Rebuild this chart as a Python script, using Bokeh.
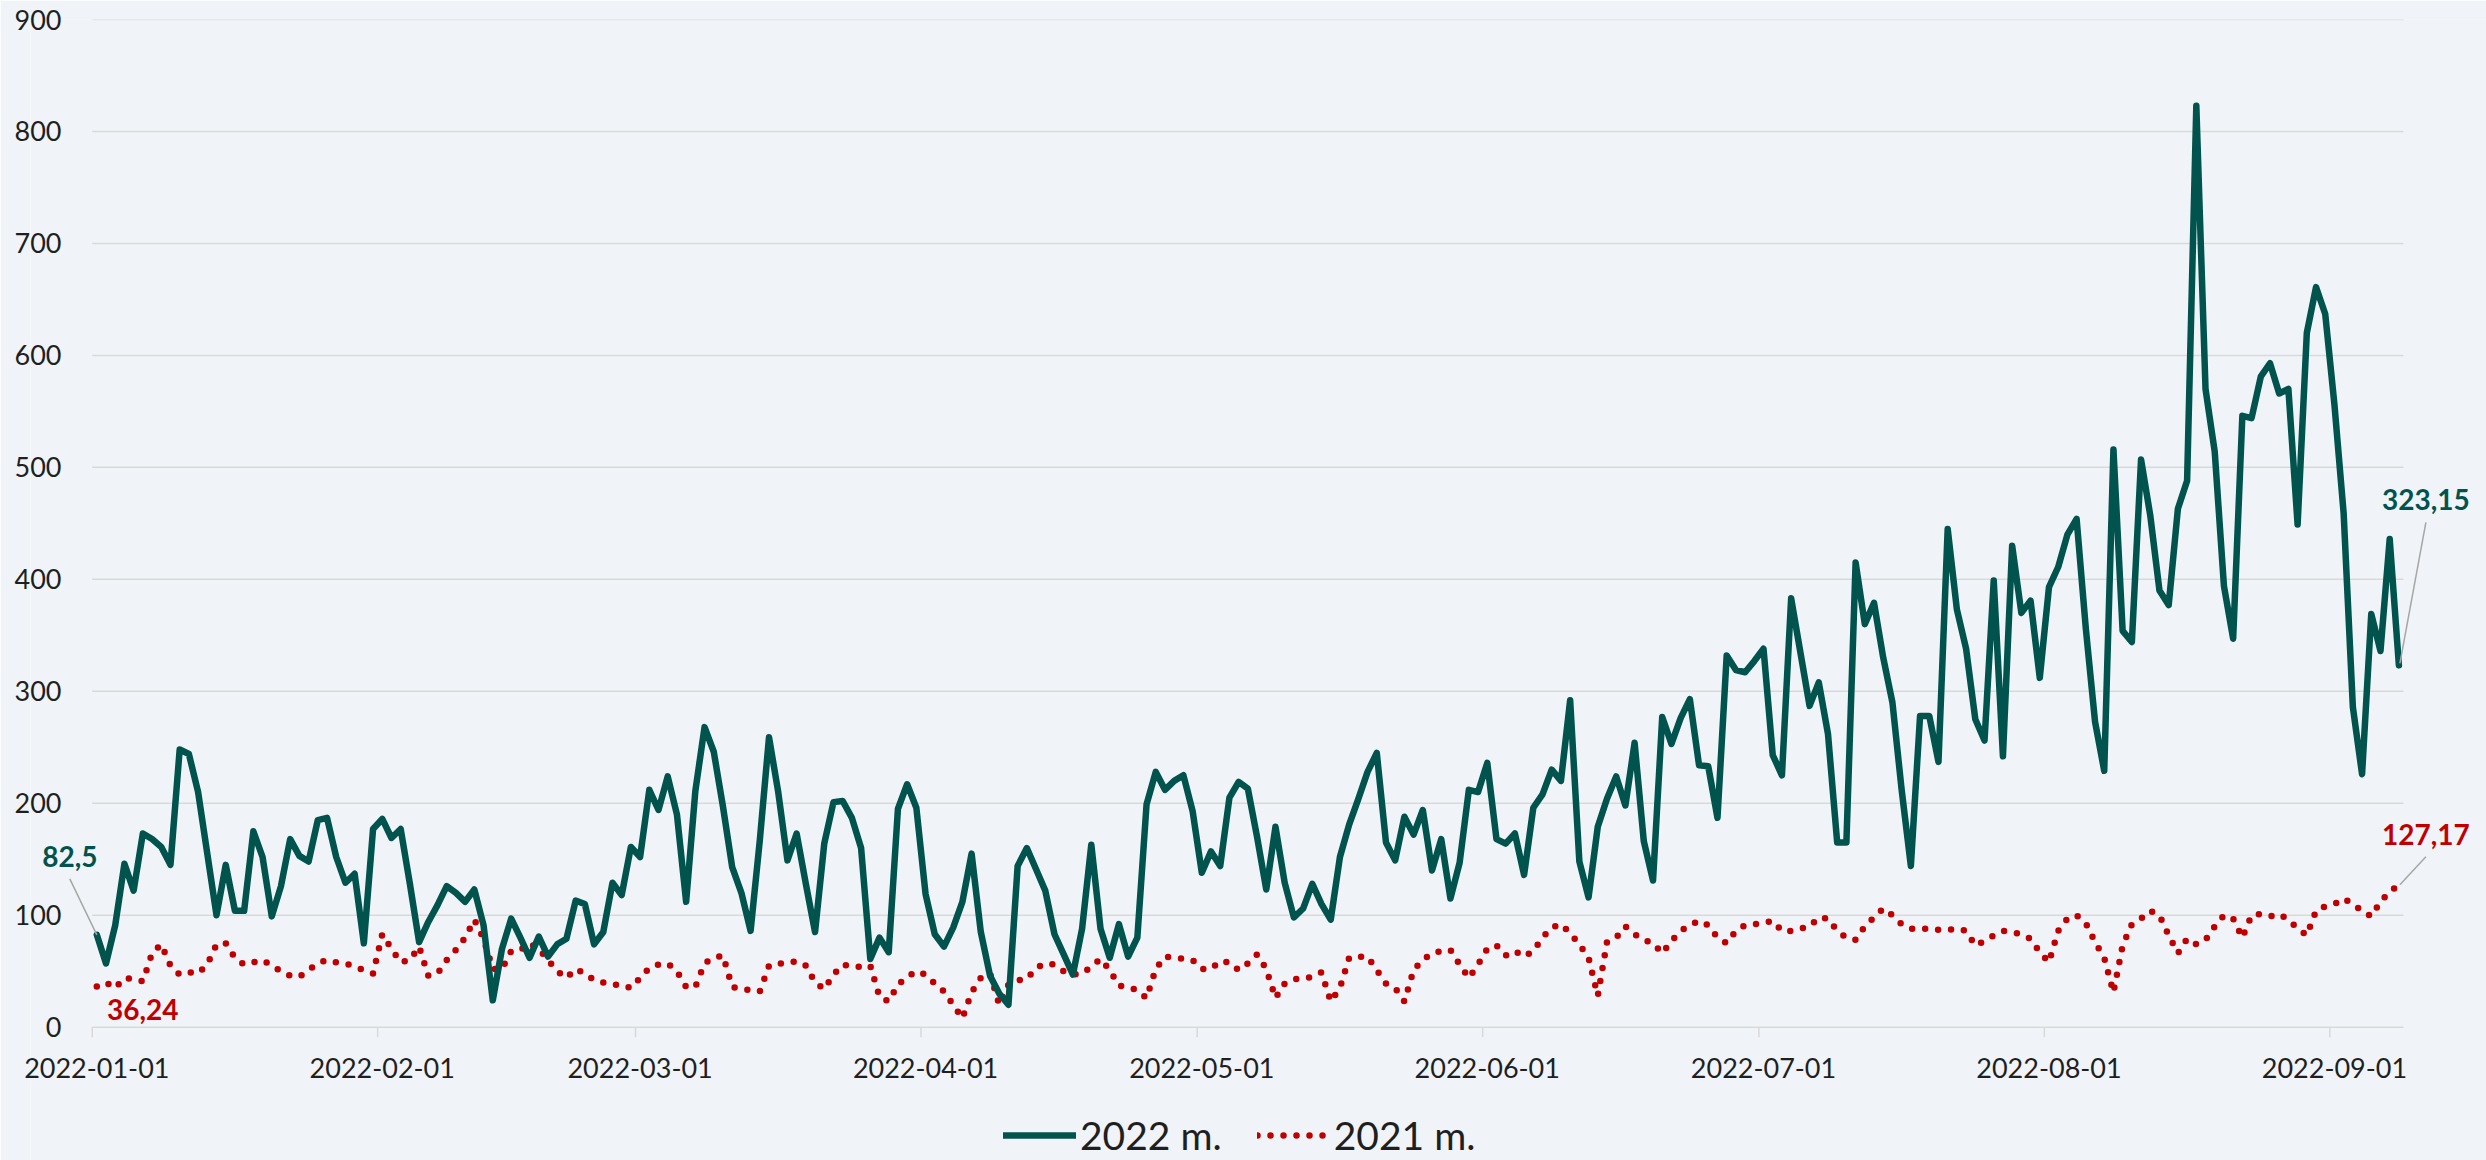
from bokeh.plotting import figure
from bokeh.models import FixedTicker, Legend, LegendItem, Label, Arrow, Range1d
from bokeh.embed import file_html
from bokeh.resources import INLINE
import datetime as dt

# ---------------- data ----------------
start_date = "2022-01-01"
name_2022 = "2022 m."
name_2021 = "2021 m."

series_2022 = [
    82.5, 57, 91, 146, 122, 173, 168, 161, 145, 248,
    244, 210, 155, 100, 145, 104, 104, 175, 152, 99,
    126, 168, 153, 148, 185, 187, 152, 129, 137, 75,
    177, 186, 169, 177, 128, 76, 94, 109, 126, 120,
    112, 123, 91, 24, 70, 97, 80, 62, 81, 63,
    74, 79, 113, 110, 74, 85, 129, 118, 161, 152,
    212, 194, 224, 190, 112, 211, 268, 246, 197, 143,
    120, 86, 167, 259, 210, 149, 173, 128, 85, 164,
    201, 202, 187, 160, 61, 80, 67, 195, 217, 196,
    119, 83, 72, 89, 112, 155, 85, 46, 30, 20,
    144, 160, 141, 122, 83, 65, 47, 88, 163, 88,
    62, 92, 63, 80, 199, 228, 212, 220, 225, 193,
    138, 157, 144, 205, 219, 213, 170, 123, 179, 129,
    98, 106, 128, 110, 96, 152, 181, 204, 228, 245,
    165, 149, 188, 172, 194, 140, 168, 115, 147, 212,
    210, 236, 168, 164, 173, 136, 196, 208, 230, 220,
    292, 148, 116, 179, 204, 224, 198, 254, 166, 131,
    277, 253, 276, 293, 234, 233, 187, 332, 319, 317,
    327, 338, 243, 225, 383, 335, 287, 308, 262, 165,
    165, 415, 360, 379, 330, 290, 212, 144, 278, 278,
    237, 445, 373, 338, 275, 256, 399, 242, 430, 370,
    381, 312, 393, 411, 440, 454, 356, 273, 229, 516,
    354, 344, 507, 457, 390, 377, 463, 488, 823, 570,
    514, 394, 347, 546, 544, 581, 593, 566, 570, 449,
    620, 661, 637, 556, 459, 286, 226, 369, 336, 436,
    323.15,
]

series_2021 = [
    36.24, 40, 35, 44, 43, 41, 66, 74, 55, 47,
    49, 48, 56, 74, 75, 62, 56, 58, 60, 55,
    50, 46, 45, 51, 57, 60, 58, 57, 54, 51,
    48, 83, 70, 58, 60, 72, 46, 48, 60, 69,
    80, 96, 79, 52, 52, 68, 69, 75, 70, 60,
    50, 44, 52, 48, 42, 40, 38, 38, 35, 44,
    53, 56, 57, 50, 36, 36, 57, 62, 64, 36,
    34, 33, 32, 55, 57, 57, 59, 55, 40, 34,
    47, 56, 54, 54, 55, 27, 23, 38, 45, 50,
    47, 39, 32, 20, 8, 31, 44, 48, 20, 38,
    42, 43, 53, 57, 56, 50, 47, 48, 54, 61,
    51, 37, 36, 33, 26, 52, 63, 62, 61, 60,
    52, 52, 59, 58, 51, 57, 65, 52, 26, 39,
    43, 43, 45, 49, 23, 35, 62, 63, 63, 51,
    39, 35, 23, 51, 60, 66, 68, 69, 56, 44,
    56, 70, 73, 64, 68, 63, 68, 80, 89, 92,
    84, 74, 62, 28, 76, 80, 90, 83, 78, 75,
    66, 77, 86, 91, 95, 91, 80, 75, 86, 91,
    92, 93, 95, 86, 86, 88, 90, 98, 97, 86,
    80, 78, 90, 98, 106, 100, 92, 88, 88, 88,
    87, 87, 88, 86, 73, 77, 82, 86, 85, 83,
    79, 67, 58, 86, 97, 100, 93, 76, 62, 31,
    73, 92, 97, 104, 100, 82, 66, 79, 74, 78,
    90, 100, 97, 80, 100, 101, 99, 101, 96, 88,
    82, 104, 108, 110, 115, 110, 104, 99, 112, 121,
    127.17,
]

month_labels = ["2022-01-01", "2022-02-01", "2022-03-01", "2022-04-01", "2022-05-01",
                "2022-06-01", "2022-07-01", "2022-08-01", "2022-09-01"]
y_ticks = [0, 100, 200, 300, 400, 500, 600, 700, 800, 900]

label_first_2022 = "82,5"
label_last_2022 = "323,15"
label_first_2021 = "36,24"
label_last_2021 = "127,17"

# ---------------- style / layout ----------------
BG = "#F0F4F8"
TEAL = "#01534E"
RED = "#C00000"
GRID = "#D9D9D9"
TXT = "#1F1F1F"
LEADER = "#A6A6A6"
FONT = "Lato"

W, H = 2486, 1160
ML, MR, MT, MB = 30, 0, 19, 0            # frame spans nearly the whole canvas
DATA_LEFT, DATA_RIGHT = 91.7, 2403.0     # pixel span of the dated part of the x axis
ZERO_Y = 1026.7                          # pixel row of value 0
Y_LABEL_RIGHT = 61                       # right edge of the y tick labels
X_LABEL_TOP = 1057                       # top of the x tick labels
TICK_LEN = 10                            # month tick length (px)

n = len(series_2022)
days = list(range(n))
d0 = dt.date.fromisoformat(start_date)
tick_pos = [(dt.date.fromisoformat(s) - d0).days for s in month_labels]

YMAX = y_ticks[-1]
px_day = (DATA_RIGHT - DATA_LEFT) / n
px_unit = (ZERO_Y - MT) / YMAX
x_start = -0.5 - (DATA_LEFT - ML) / px_day
x_end = n - 0.5 + (W - MR - DATA_RIGHT) / px_day
y_start = -(H - MB - ZERO_Y) / px_unit

p = figure(width=W, height=H, output_backend="svg", toolbar_location=None,
           x_range=Range1d(x_start, x_end), y_range=Range1d(y_start, YMAX),
           min_border_left=ML, min_border_right=MR, min_border_top=MT, min_border_bottom=MB,
           background_fill_color=BG, border_fill_color=BG, outline_line_color=None)

# horizontal grid only over the dated span
p.xgrid.visible = False
p.ygrid.visible = False
p.segment(x0=[-0.5] * len(y_ticks), x1=[n - 0.5] * len(y_ticks), y0=y_ticks, y1=y_ticks,
          line_color=GRID, line_width=1.5, level="underlay")
# month tick marks under the baseline (at day boundaries)
p.segment(x0=[t - 0.5 for t in tick_pos], x1=[t - 0.5 for t in tick_pos],
          y0=[0] * len(tick_pos), y1=[-TICK_LEN / px_unit] * len(tick_pos),
          line_color=GRID, line_width=1.5, level="underlay")

p.yaxis.ticker = FixedTicker(ticks=y_ticks)
p.yaxis.axis_line_color = None
p.yaxis.major_tick_line_color = None
p.yaxis.minor_tick_line_color = None
p.yaxis.major_tick_out = 0
p.yaxis.major_tick_in = 0
p.yaxis.major_label_standoff = -(Y_LABEL_RIGHT - ML)
p.yaxis.major_label_text_font = FONT
p.yaxis.major_label_text_font_size = "27px"
p.yaxis.major_label_text_color = TXT

p.xaxis.ticker = FixedTicker(ticks=tick_pos)
p.xaxis.major_label_overrides = {pos: lab for pos, lab in zip(tick_pos, month_labels)}
p.xaxis.axis_line_color = None
p.xaxis.major_tick_line_color = None
p.xaxis.minor_tick_line_color = None
p.xaxis.major_tick_out = 0
p.xaxis.major_tick_in = 0
p.xaxis.major_label_standoff = -int(H - MB - X_LABEL_TOP)
p.xaxis.major_label_text_font = FONT
p.xaxis.major_label_text_font_size = "27px"
p.xaxis.major_label_text_color = TXT

r21 = p.line(days, series_2021, line_color=RED, line_width=6.5, line_dash="0 13",
             line_cap="round")
r22 = p.line(days, series_2022, line_color=TEAL, line_width=6.5, line_join="round",
             line_cap="round")

legend = Legend(items=[LegendItem(label=name_2022, renderers=[r22]),
                       LegendItem(label=name_2021, renderers=[r21])],
                orientation="horizontal", location=(1003 - ML, 2),
                glyph_width=73, glyph_height=36, label_standoff=4, spacing=35,
                padding=0, margin=0, border_line_color=None, background_fill_alpha=0,
                label_text_font=FONT, label_text_font_size="39px", label_text_color=TXT)
p.add_layout(legend)


def add_label(idx, series, text, color, dx, dy, leader=None):
    p.add_layout(Label(x=idx, y=series[idx], text=text, x_offset=dx, y_offset=dy,
                       text_align="center", text_baseline="middle",
                       text_font=FONT, text_font_style="bold", text_font_size="28px",
                       text_color=color))
    if leader is not None:
        (sx, sy), (ex, ey) = leader
        p.add_layout(Arrow(end=None,
                           x_start=idx + sx / px_day, y_start=series[idx] + sy / px_unit,
                           x_end=idx + ex / px_day, y_end=series[idx] + ey / px_unit,
                           line_color=LEADER, line_width=1.5))


add_label(0, series_2022, label_first_2022, TEAL, -27, 78, ((-27, 56), (0, 0)))
add_label(0, series_2021, label_first_2021, RED, 46, -23)
add_label(n - 1, series_2022, label_last_2022, TEAL, 27, 166, ((27, 143), (1, 2)))
add_label(n - 1, series_2021, label_last_2021, RED, 27, 50, ((27, 28), (1, 0)))

open("out.html", "w").write(file_html(p, INLINE))
